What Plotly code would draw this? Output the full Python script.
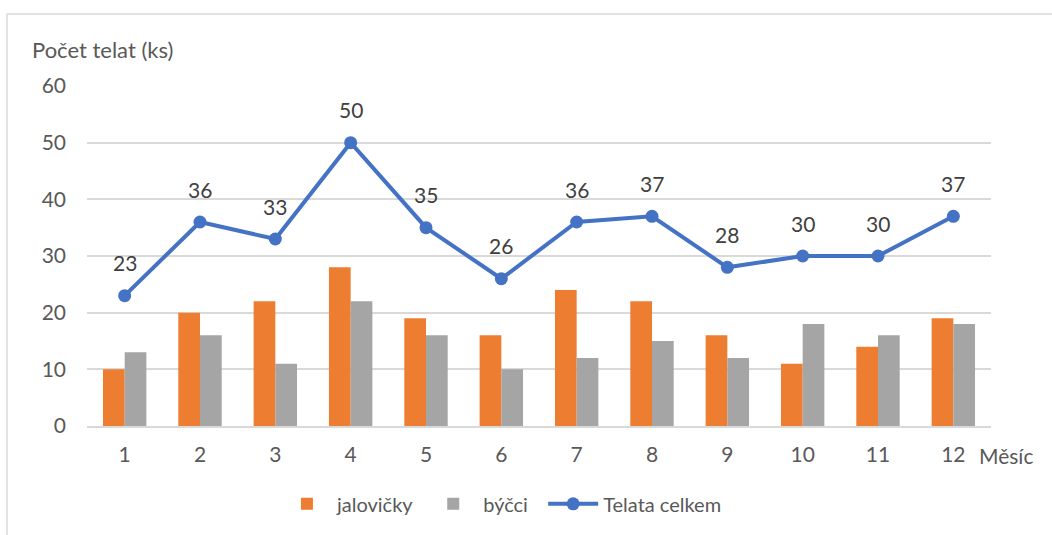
import plotly.graph_objects as go

months = ["1", "2", "3", "4", "5", "6", "7", "8", "9", "10", "11", "12"]
jalovicky = [10, 20, 22, 28, 19, 16, 24, 22, 16, 11, 14, 19]
bycci = [13, 16, 11, 22, 16, 10, 12, 15, 12, 18, 16, 18]
celkem = [23, 36, 33, 50, 35, 26, 36, 37, 28, 30, 30, 37]
y_ticks = [0, 10, 20, 30, 40, 50, 60]

FONT = "Lato, 'Open Sans', sans-serif"
TXT = "#595959"

fig = go.Figure()
fig.add_trace(go.Bar(x=months, y=jalovicky, name="jalovičky\u00a0", marker=dict(color="#ED7D31", line=dict(width=0))))
fig.add_trace(go.Bar(x=months, y=bycci, name="býčci\u00a0\u00a0", marker=dict(color="#A5A5A5", line=dict(width=0))))
fig.add_trace(go.Scatter(x=months, y=celkem, name="Telata celkem", mode="lines+markers",
                         line=dict(color="#4472C4", width=4),
                         marker=dict(color="#4472C4", size=13)))

annotations = []
for i, v in enumerate(celkem):
    annotations.append(dict(x=i, y=v, xref="x", yref="y", text=str(v), showarrow=False, yshift=33,
                            font=dict(size=21, color="#404040", family=FONT)))
annotations.append(dict(xref="paper", yref="paper", x=-0.063, y=1.106, xanchor="left", yanchor="middle",
                        text="Počet telat (ks)", showarrow=False, font=dict(size=22, color=TXT, family=FONT)))
annotations.append(dict(xref="paper", yref="paper", x=0.984, y=-0.088, xanchor="left", yanchor="middle",
                        text="Měsíc", showarrow=False, font=dict(size=21, color=TXT, family=FONT)))

fig.update_layout(
    width=1052, height=535,
    margin=dict(l=87, r=61, t=86, b=109, autoexpand=False),
    paper_bgcolor="white", plot_bgcolor="white",
    barmode="group", bargap=0.424, bargroupgap=0,
    font=dict(family=FONT, color=TXT, size=21),
    showlegend=True,
    legend=dict(orientation="h", x=0.459, xanchor="center", y=-0.229, yanchor="middle",
                font=dict(size=20, color=TXT, family=FONT), itemwidth=50, traceorder="normal"),
    annotations=annotations,
    shapes=[dict(type="rect", xref="paper", yref="paper", x0=-0.0885, y0=-0.5, x1=1.3, y1=1.2118,
                 line=dict(color="#D9D9D9", width=1.5), fillcolor="rgba(0,0,0,0)", layer="below")],
)
fig.update_xaxes(type="category", range=[-0.5, 11.5], automargin=False, showgrid=False, showline=True,
                 linecolor="#D9D9D9", linewidth=1.5,
                 ticks="", tickfont=dict(size=21, color=TXT, family=FONT), ticklabelstandoff=9)
fig.update_yaxes(range=[0, 60], tickvals=y_ticks, automargin=False, showgrid=True, gridcolor="#D9D9D9",
                 gridwidth=1.5, zeroline=False, showline=False, ticks="",
                 tickfont=dict(size=21, color=TXT, family=FONT), ticklabelstandoff=20)

fig.write_html("out.html", config={"displayModeBar": False},
               post_script="document.body.style.margin='0';document.body.style.overflow='hidden';")
